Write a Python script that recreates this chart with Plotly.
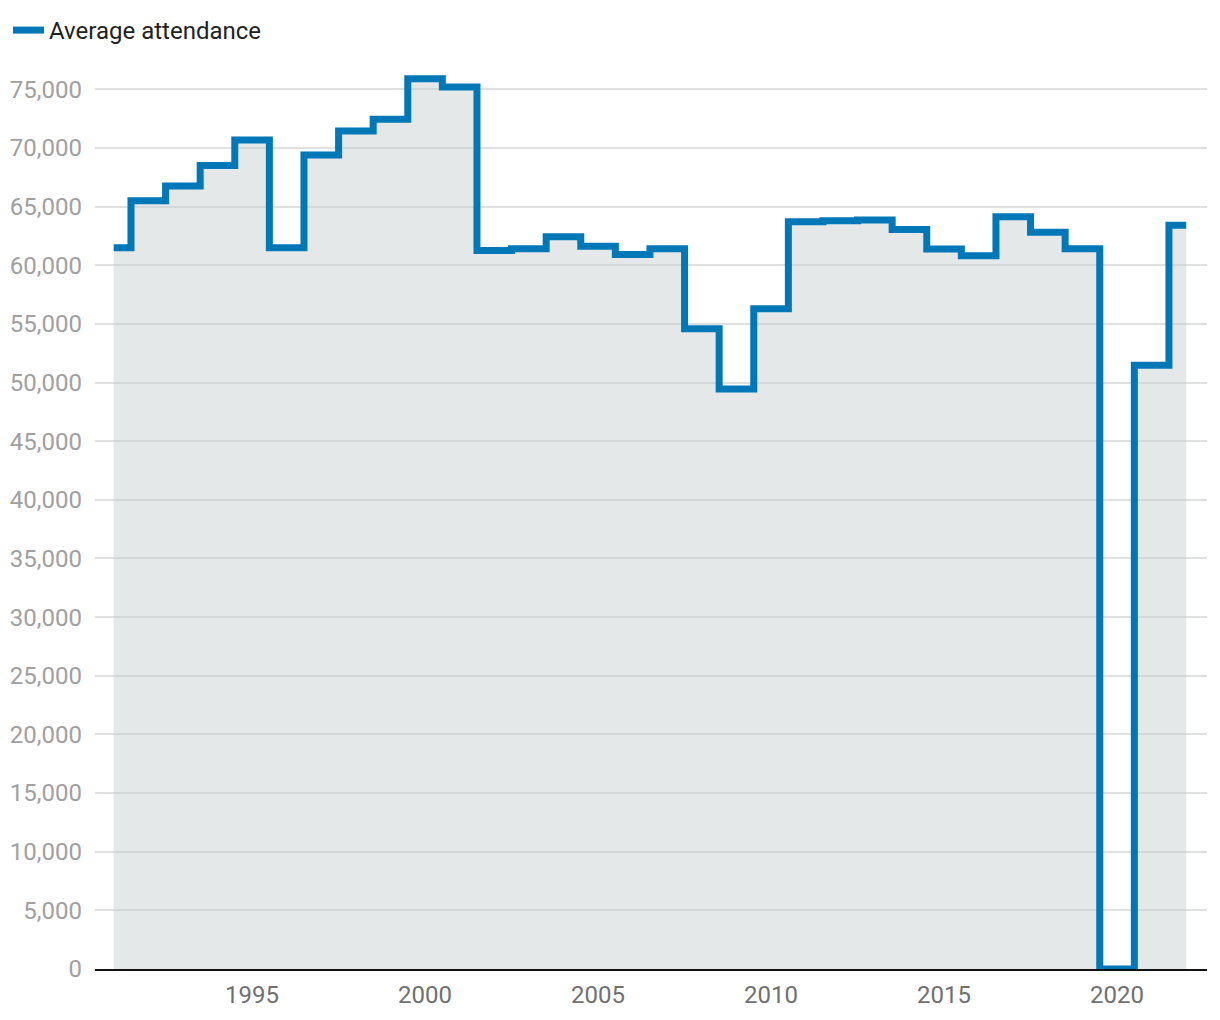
import plotly.graph_objects as go

years = list(range(1991, 2023))
attendance = [61490, 65500, 66750, 68500, 70670, 61500, 69400, 71440, 72440, 75900,
              75200, 61260, 61400, 62430, 61630, 60920, 61400, 54580, 49460, 56290,
              63710, 63800, 63850, 63050, 61380, 60810, 64140, 62820, 61400, 0,
              51480, 63420]
series_name = "Average attendance"
x_ticks = [1995, 2000, 2005, 2010, 2015, 2020]
y_ticks = list(range(0, 80000, 5000))

FONT = "Roboto"
BLUE = "#0077b6"

fig = go.Figure()
fig.add_trace(go.Scatter(
    x=years, y=attendance, mode="lines", line=dict(shape="hvh", width=0),
    fill="tozeroy", fillcolor="rgba(198,204,207,0.45)", showlegend=False,
    hoverinfo="skip"))
fig.add_trace(go.Scatter(
    x=years, y=attendance, mode="lines", name=series_name,
    line=dict(shape="hvh", width=7, color=BLUE)))

fig.update_layout(
    width=1212, height=1012,
    margin=dict(l=87, r=13, t=52, b=51),
    paper_bgcolor="white", plot_bgcolor="white",
    font=dict(family=FONT, size=24, color="#222222"),
    showlegend=True,
    legend=dict(orientation="h", x=0, y=1, xref="container", yref="container",
                xanchor="left", yanchor="top", itemwidth=31,
                font=dict(size=24, color="#222222")),
    xaxis=dict(range=[1990.46, 2022.6], tickvals=x_ticks, showgrid=False,
               showline=True, linecolor="#111111", linewidth=2, ticks="",
               ticklabelstandoff=3,
               tickfont=dict(size=24, color="#707070"), zeroline=False,
               automargin=False),
    yaxis=dict(range=[0, 77500], tickvals=y_ticks, tickformat=",",
               showgrid=True, gridcolor="#e0e0e0", gridwidth=1.5,
               zeroline=False, ticks="", ticklabelstandoff=12,
               tickfont=dict(size=24, color="#a0a0a0"), automargin=False),
)

fig.write_html("out.html")
